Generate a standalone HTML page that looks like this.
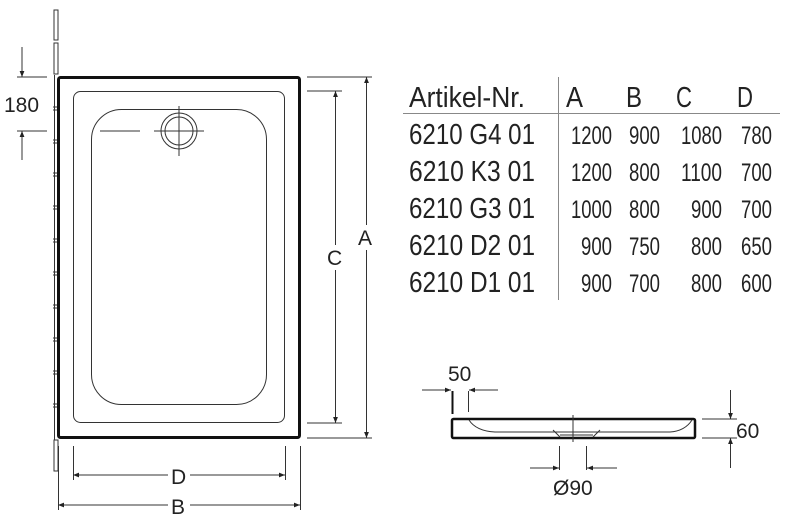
<!DOCTYPE html>
<html><head><meta charset="utf-8"><style>
html,body{margin:0;padding:0;background:#fff;width:800px;height:529px;overflow:hidden}
svg{display:block}
text{font-family:"Liberation Sans",sans-serif;fill:#222}
</style></head><body>
<svg width="800" height="529" viewBox="0 0 800 529" xmlns="http://www.w3.org/2000/svg">
<defs>
<marker id="ar" viewBox="0 0 10 10" refX="10" refY="5" markerWidth="10" markerHeight="6" orient="auto-start-reverse" markerUnits="userSpaceOnUse"><path d="M0,1 L10,5 L0,9 z" fill="#222"/></marker>
</defs>
<g stroke="#333" fill="none" stroke-width="1">
<rect x="54" y="10" width="4" height="30"/>
<rect x="54" y="43" width="4" height="31"/>
<line x1="54.5" y1="75" x2="54.5" y2="440"/>
<rect x="54" y="440" width="4" height="31"/>
<path d="M53,107h4M53,110h4M53,140h4M53,143h4M53,173h4M53,176h4M53,206h4M53,209h4M53,239h4M53,242h4M53,272h4M53,275h4M53,305h4M53,308h4M53,338h4M53,341h4M53,371h4M53,374h4M53,404h4M53,407h4"/>
<rect x="58.5" y="77.5" width="241" height="360" rx="2" stroke="#111" stroke-width="3"/>
<rect x="73.5" y="91.5" width="211" height="331" rx="7"/>
<rect x="91.5" y="109.5" width="175" height="295" rx="30"/>
<circle cx="179" cy="131" r="18"/>
<circle cx="179" cy="131" r="14"/>
<path d="M100,131h40M154,131h50M179,106v50"/>
<path d="M17,77h30M17,131h30"/>
<line x1="22" y1="47" x2="22" y2="77" marker-end="url(#ar)"/>
<line x1="22" y1="160" x2="22" y2="131" marker-end="url(#ar)"/>
<path d="M307,91h35M307,423h35M307,77h65M307,438h65"/>
<line x1="335.5" y1="91" x2="335.5" y2="245" marker-start="url(#ar)"/>
<line x1="335.5" y1="270" x2="335.5" y2="423" marker-end="url(#ar)"/>
<line x1="366.5" y1="77" x2="366.5" y2="225" marker-start="url(#ar)"/>
<line x1="366.5" y1="250" x2="366.5" y2="438" marker-end="url(#ar)"/>
<path d="M73.5,446v34M285.5,446v34M58.5,446v64M300.5,446v64"/>
<line x1="73" y1="475" x2="168" y2="475" marker-start="url(#ar)"/>
<line x1="190" y1="475" x2="285" y2="475" marker-end="url(#ar)"/>
<line x1="58" y1="505" x2="168" y2="505" marker-start="url(#ar)"/>
<line x1="190" y1="505" x2="300" y2="505" marker-end="url(#ar)"/>
<path d="M403,113.5h377M558.5,77v223" stroke="#888"/>
<rect x="452" y="419" width="243" height="19" rx="1.5" stroke="#111" stroke-width="2.5"/>
<path d="M469,420 Q476,431 495,432 H670 Q685,431 692,420"/>
<path d="M553,430 L560,437 M600,430 L593,437 M560,435h33"/>
<path d="M573,415v27"/>
<line x1="452.5" y1="391" x2="452.5" y2="414" stroke="#111" stroke-width="2"/>
<line x1="468.5" y1="391" x2="468.5" y2="412"/>
<line x1="422" y1="390" x2="451" y2="390" marker-end="url(#ar)"/>
<line x1="498" y1="390" x2="469" y2="390" marker-end="url(#ar)"/>
<path d="M559.5,446v24M586.5,446v24"/>
<line x1="530" y1="468" x2="559" y2="468" marker-end="url(#ar)"/>
<line x1="617" y1="468" x2="587" y2="468" marker-end="url(#ar)"/>
<path d="M702,419h35M702,438h35"/>
<line x1="730.5" y1="390" x2="730.5" y2="419" marker-end="url(#ar)"/>
<line x1="730.5" y1="468" x2="730.5" y2="438" marker-end="url(#ar)"/>
</g>
<g font-size="21">
<text x="4" y="112">180</text>
<text x="327" y="265">C</text>
<text x="358" y="245">A</text>
<text x="171" y="484">D</text>
<text x="171" y="514">B</text>
<text x="448" y="381">50</text>
<text x="736" y="438">60</text>
<text x="553" y="495">Ø90</text>
</g>
<g font-size="29">
<text x="409" y="107" textLength="116" lengthAdjust="spacingAndGlyphs">Artikel-Nr.</text>
<text x="566" y="107" textLength="17" lengthAdjust="spacingAndGlyphs">A</text>
<text x="626" y="107" textLength="16" lengthAdjust="spacingAndGlyphs">B</text>
<text x="676" y="107" textLength="16" lengthAdjust="spacingAndGlyphs">C</text>
<text x="737" y="107" textLength="16" lengthAdjust="spacingAndGlyphs">D</text>
<text x="409" y="144" textLength="126" lengthAdjust="spacingAndGlyphs">6210 G4 01</text>
<text x="409" y="181" textLength="126" lengthAdjust="spacingAndGlyphs">6210 K3 01</text>
<text x="409" y="218" textLength="126" lengthAdjust="spacingAndGlyphs">6210 G3 01</text>
<text x="409" y="255" textLength="126" lengthAdjust="spacingAndGlyphs">6210 D2 01</text>
<text x="409" y="292" textLength="126" lengthAdjust="spacingAndGlyphs">6210 D1 01</text>
</g>
<g font-size="25">
<text x="571" y="144" textLength="41" lengthAdjust="spacingAndGlyphs">1200</text><text x="629" y="144" textLength="31" lengthAdjust="spacingAndGlyphs">900</text><text x="681" y="144" textLength="41" lengthAdjust="spacingAndGlyphs">1080</text><text x="741" y="144" textLength="31" lengthAdjust="spacingAndGlyphs">780</text>
<text x="571" y="181" textLength="41" lengthAdjust="spacingAndGlyphs">1200</text><text x="629" y="181" textLength="31" lengthAdjust="spacingAndGlyphs">800</text><text x="681" y="181" textLength="41" lengthAdjust="spacingAndGlyphs">1100</text><text x="741" y="181" textLength="31" lengthAdjust="spacingAndGlyphs">700</text>
<text x="571" y="218" textLength="41" lengthAdjust="spacingAndGlyphs">1000</text><text x="629" y="218" textLength="31" lengthAdjust="spacingAndGlyphs">800</text><text x="691" y="218" textLength="31" lengthAdjust="spacingAndGlyphs">900</text><text x="741" y="218" textLength="31" lengthAdjust="spacingAndGlyphs">700</text>
<text x="581" y="255" textLength="31" lengthAdjust="spacingAndGlyphs">900</text><text x="629" y="255" textLength="31" lengthAdjust="spacingAndGlyphs">750</text><text x="691" y="255" textLength="31" lengthAdjust="spacingAndGlyphs">800</text><text x="741" y="255" textLength="31" lengthAdjust="spacingAndGlyphs">650</text>
<text x="581" y="292" textLength="31" lengthAdjust="spacingAndGlyphs">900</text><text x="629" y="292" textLength="31" lengthAdjust="spacingAndGlyphs">700</text><text x="691" y="292" textLength="31" lengthAdjust="spacingAndGlyphs">800</text><text x="741" y="292" textLength="31" lengthAdjust="spacingAndGlyphs">600</text>
</g>
</svg>
</body></html>
